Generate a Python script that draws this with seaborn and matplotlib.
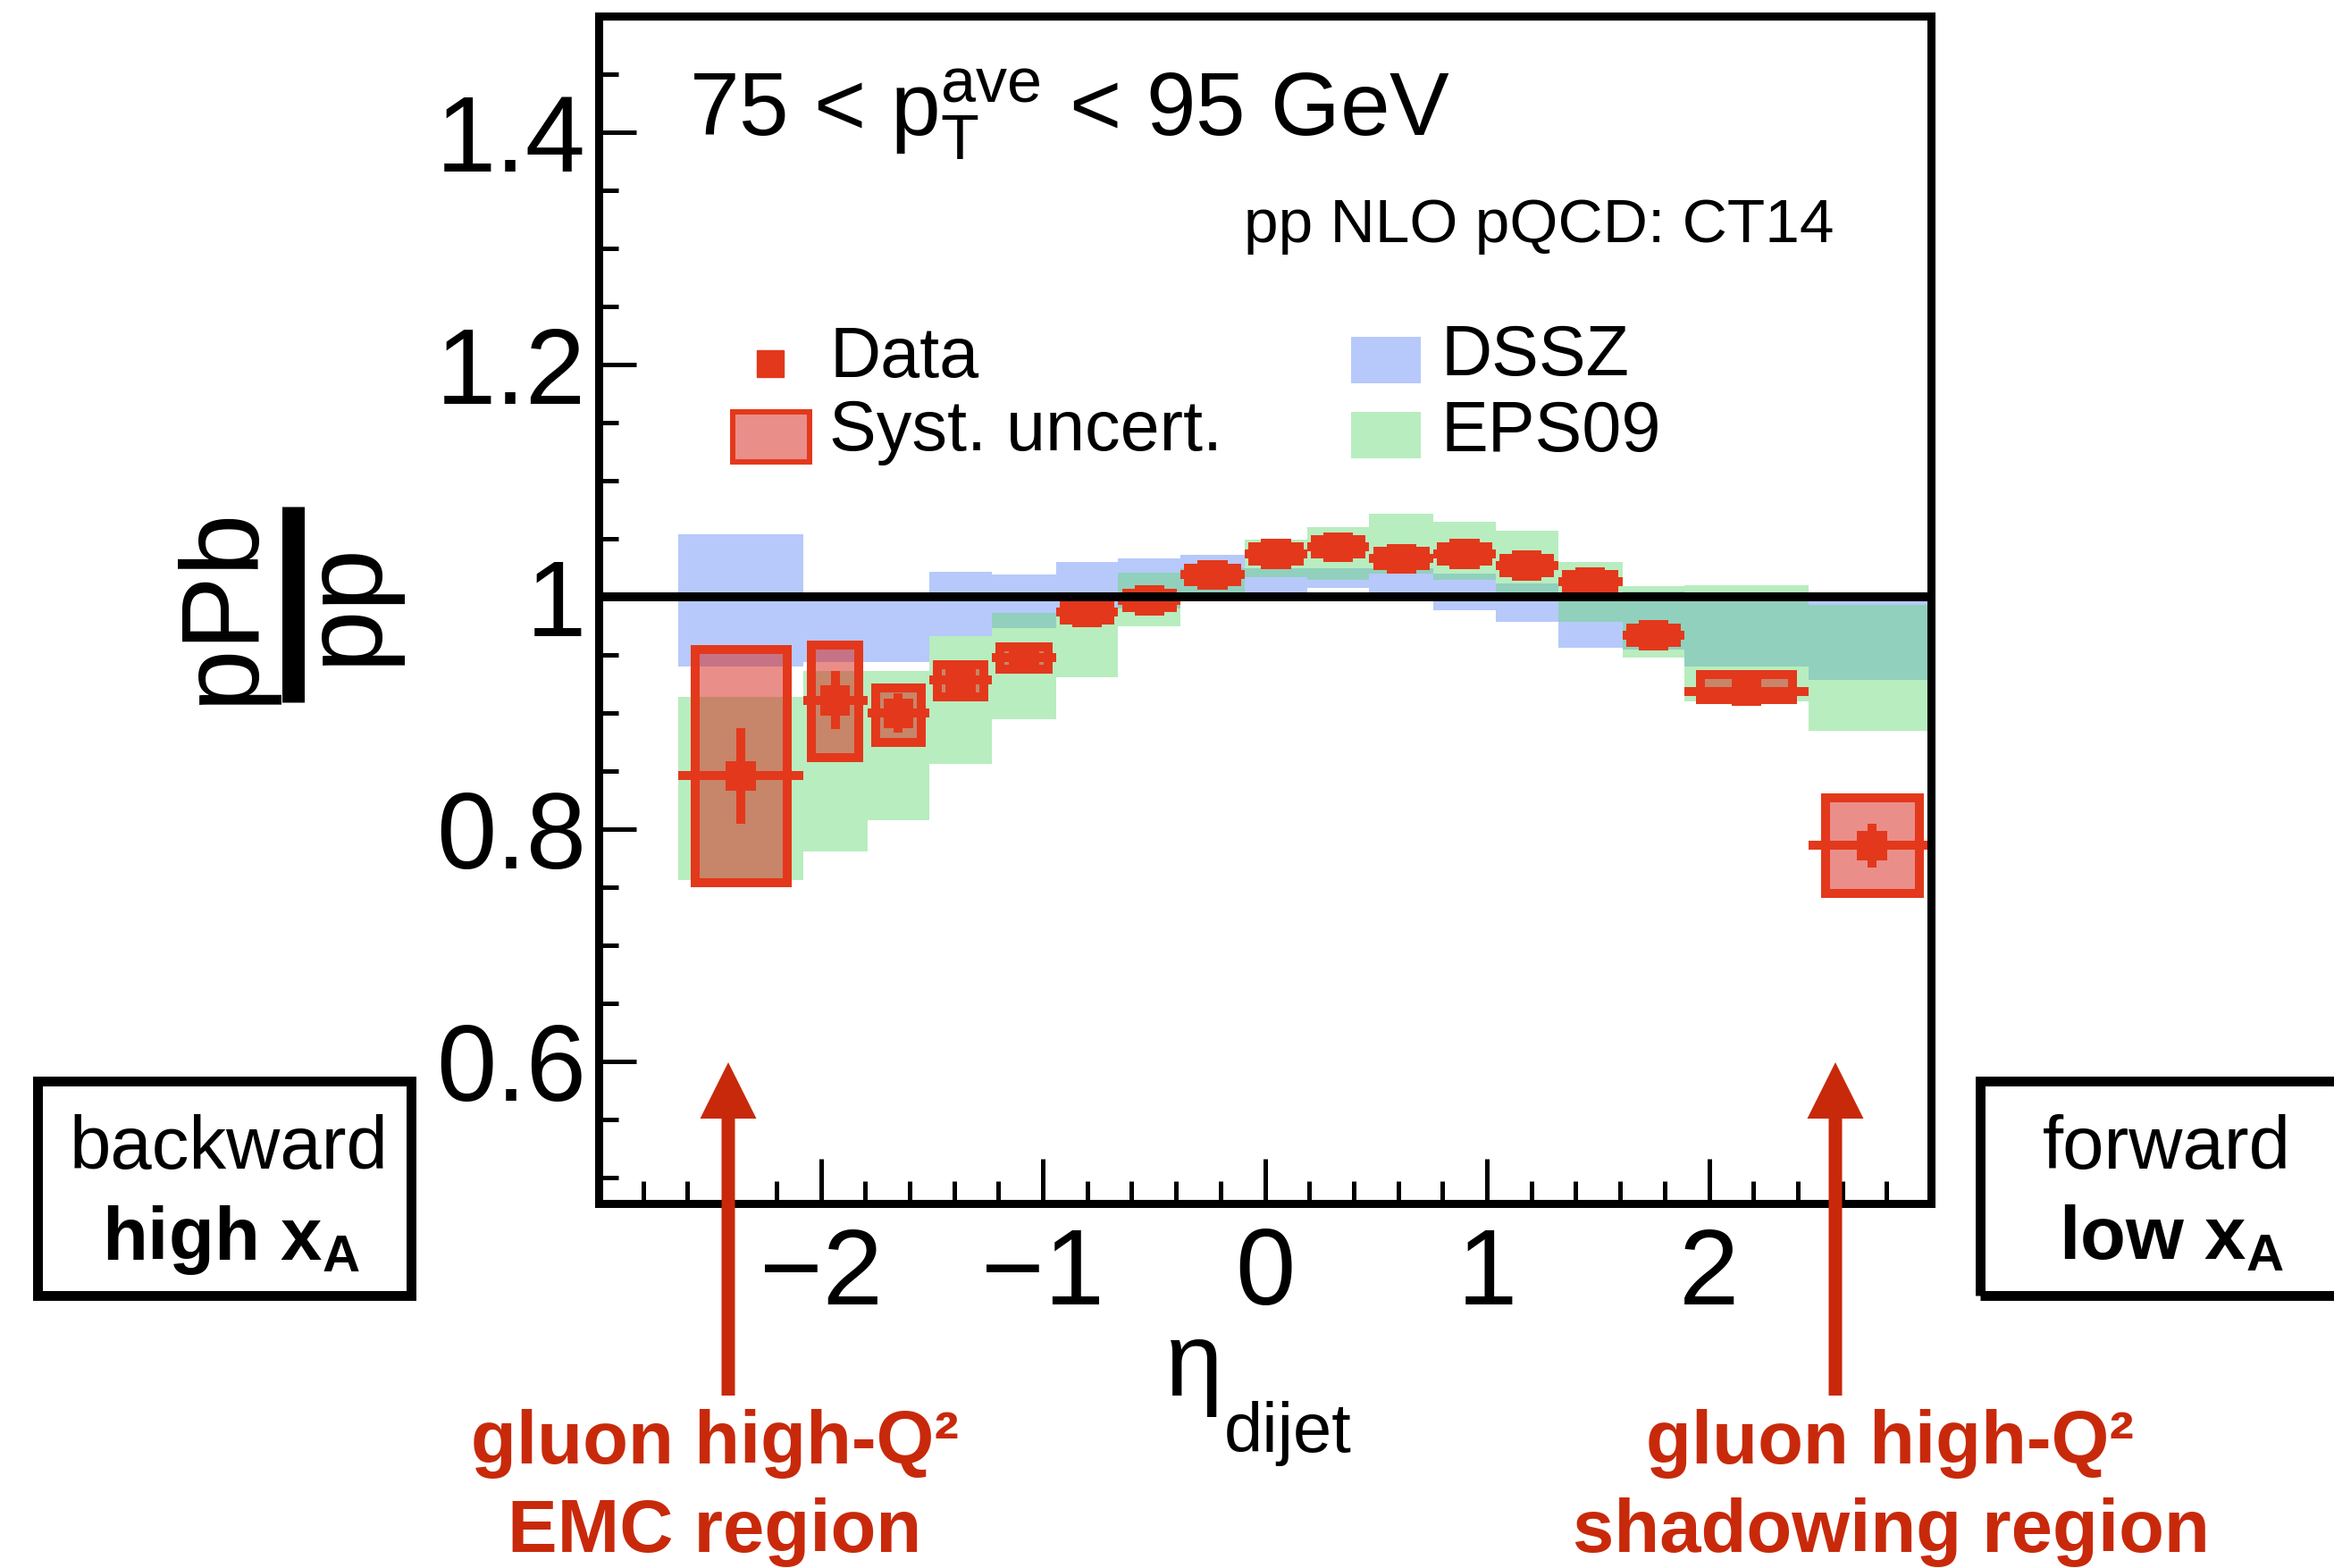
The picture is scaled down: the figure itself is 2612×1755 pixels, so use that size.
import numpy as np
import pandas as pd
import seaborn as sns
import matplotlib
matplotlib.use("Agg")
import matplotlib.pyplot as plt
from matplotlib.patches import Rectangle, FancyArrow
from matplotlib.lines import Line2D
from matplotlib.ticker import MultipleLocator, FixedLocator, FuncFormatter
from matplotlib.transforms import IdentityTransform

# ---------------- data ----------------
bin_edges = [-2.64, -2.08, -1.79, -1.51, -1.23, -0.94, -0.66, -0.38, -0.09,
             0.19, 0.47, 0.76, 1.04, 1.32, 1.61, 1.89, 2.45, 3.02]
data_ratio = [0.846, 0.911, 0.900, 0.929, 0.948, 0.987, 0.997, 1.019, 1.037,
              1.043, 1.033, 1.037, 1.027, 1.013, 0.967, 0.919, 0.786]
stat_err = [0.041, 0.025, 0.017, 0.009, 0.006, 0.005, 0.005, 0.005, 0.005,
            0.005, 0.005, 0.005, 0.005, 0.005, 0.006, 0.008, 0.019]
syst_low = [0.754, 0.862, 0.875, 0.914, 0.938, 0.980, 0.991, 1.013, 1.031,
            1.037, 1.027, 1.031, 1.021, 1.007, 0.961, 0.912, 0.745]
syst_high = [0.955, 0.959, 0.922, 0.942, 0.957, 0.993, 1.003, 1.025, 1.043,
             1.049, 1.039, 1.043, 1.033, 1.019, 0.973, 0.933, 0.827]
dssz_low = [0.940, 0.944, 0.944, 0.966, 0.973, 0.985, 0.990, 0.997, 0.999,
            1.008, 0.999, 0.989, 0.979, 0.956, 0.955, 0.940, 0.929]
dssz_high = [1.054, 0.999, 0.999, 1.022, 1.019, 1.030, 1.033, 1.036, 1.025,
             1.025, 1.025, 1.020, 1.012, 1.000, 1.005, 1.000, 0.998]
eps09_low = [0.756, 0.781, 0.808, 0.856, 0.895, 0.931, 0.975, 0.997, 1.017,
             1.015, 1.020, 1.015, 1.000, 0.979, 0.948, 0.910, 0.885]
eps09_high = [0.914, 0.936, 0.936, 0.966, 0.986, 0.990, 1.021, 1.025, 1.049,
              1.060, 1.072, 1.065, 1.057, 1.030, 1.009, 1.010, 0.993]
x_ticks = [-2, -1, 0, 1, 2]
y_ticks = [0.6, 0.8, 1.0, 1.2, 1.4]
legend_labels = ["Data", "Syst. uncert.", "DSSZ", "EPS09"]

# ---------------- style ----------------
sns.set_theme(style="ticks")
plt.rcParams["font.family"] = ["Liberation Sans", "DejaVu Sans"]
plt.rcParams.update({
    "mathtext.fontset": "custom",
    "mathtext.rm": "Liberation Sans",
    "mathtext.it": "Liberation Sans:italic",
    "mathtext.bf": "Liberation Sans:bold",
    "axes.edgecolor": "black", "xtick.color": "black", "ytick.color": "black",
    "text.color": "black", "axes.labelcolor": "black",
})

RED = "#e3381b"
SYST_FILL = (0.84, 0.12, 0.08, 0.5)
BLUE = "#b7c9fa"
GREEN = (99 / 255, 217 / 255, 115 / 255, 0.45)
ANNOT_RED = "#c8290b"

W, H = 2612, 1755
fig = plt.figure(figsize=(W / 100, H / 100), dpi=100)
PX = IdentityTransform()


def fx(px):
    return px / W


def fy(py):
    return 1 - py / H


ax = fig.add_axes([fx(670), fy(1347), (2161 - 670) / W, (1347 - 18) / H])

edges = np.array(bin_edges)
centers = 0.5 * (edges[:-1] + edges[1:])
widths = np.diff(edges)
df = pd.DataFrame({"eta": centers, "ratio": data_ratio})

d_lo, d_hi = np.array(dssz_low), np.array(dssz_high)
e_lo, e_hi = np.array(eps09_low), np.array(eps09_high)
s_lo, s_hi = np.array(syst_low), np.array(syst_high)

ax.bar(centers, d_hi - d_lo, bottom=d_lo, width=widths, color=BLUE,
       linewidth=0, zorder=1)
ax.bar(centers, e_hi - e_lo, bottom=e_lo, width=widths, color=GREEN,
       linewidth=0, zorder=2)
ax.bar(centers, s_hi - s_lo, bottom=s_lo, width=0.74 * widths,
       facecolor=SYST_FILL, edgecolor=RED, linewidth=7.2, zorder=3)
ax.errorbar(centers, data_ratio, xerr=widths / 2, yerr=stat_err, fmt="none",
            ecolor=RED, elinewidth=7.2, capsize=0, zorder=4)
sns.scatterplot(data=df, x="eta", y="ratio", marker="s", s=24 ** 2, color=RED,
                edgecolor="none", linewidth=0, ax=ax, zorder=5, legend=False)
ax.axhline(1.0, color="black", lw=7.2, zorder=6)

ax.set_xlim(-3.0, 3.0)
ax.set_ylim(0.478, 1.5)
ax.set_xlabel("")
ax.set_ylabel("")
for s in ax.spines.values():
    s.set_linewidth(6.5)
    s.set_color("black")
    s.set_zorder(10)

ax.xaxis.set_major_locator(FixedLocator(x_ticks))
ax.xaxis.set_minor_locator(MultipleLocator(0.2))
ax.yaxis.set_major_locator(FixedLocator(y_ticks))
ax.yaxis.set_minor_locator(MultipleLocator(0.05))
ax.xaxis.set_major_formatter(FuncFormatter(lambda v, p: f"{v:g}".replace("-", "\u2212")))
ax.yaxis.set_major_formatter(FuncFormatter(lambda v, p: f"{v:g}"))
ax.tick_params(axis="x", which="major", direction="in", length=36, width=3.6,
               labelsize=87, pad=19, top=False)
ax.tick_params(axis="x", which="minor", direction="in", length=18, width=3.6, top=False)
ax.tick_params(axis="y", which="major", direction="in", length=30, width=3.6,
               labelsize=87, pad=10, right=False)
ax.tick_params(axis="y", which="minor", direction="in", length=16, width=3.6, right=False)

# ---------------- texts inside the frame ----------------
fig.text(fx(771), fy(152), r"75 < $\mathrm{p}_{\mathrm{T}}^{\mathrm{ave}}$ < 95 GeV",
         fontsize=72, ha="left", va="baseline")
fig.text(fx(2053), fy(271), "pp NLO pQCD: CT14", fontsize=50, ha="right", va="baseline")

# ---------------- legend ----------------
fig.add_artist(Line2D([862], [H - 407], marker="s", markersize=21.6, color=RED,
                      linestyle="None", transform=PX))
fig.add_artist(Rectangle((820, H - 517), 85.5, 56.4, facecolor=SYST_FILL,
                         edgecolor=RED, linewidth=4.3, transform=PX))
fig.add_artist(Rectangle((1512, H - 428.6), 78, 51.6, facecolor=BLUE,
                         linewidth=0, transform=PX))
fig.add_artist(Rectangle((1512, H - 513), 78, 52, facecolor=GREEN,
                         linewidth=0, transform=PX))
fig.text(fx(929), fy(422), legend_labels[0], fontsize=57, ha="left", va="baseline")
fig.text(fx(928), fy(504), legend_labels[1], fontsize=57, ha="left", va="baseline")
fig.text(fx(1613), fy(420), legend_labels[2], fontsize=57, ha="left", va="baseline")
fig.text(fx(1613), fy(505), legend_labels[3], fontsize=57, ha="left", va="baseline")

# ---------------- axis titles ----------------
fig.text(fx(250), fy(677), "pPb", rotation=90, fontsize=90, ha="center", va="center")
fig.add_artist(Line2D([fx(328), fx(328)], [fy(567), fy(786)], lw=18, color="black",
                      solid_capstyle="butt"))
fig.text(fx(388), fy(675), "pp", rotation=90, fontsize=90, ha="center", va="center")

fig.text(fx(1304), fy(1562), "\u03b7", fontsize=84, ha="left", va="baseline")
fig.text(fx(1370), fy(1625), "dijet", fontsize=56, ha="left", va="baseline")

# ---------------- annotation boxes ----------------
fig.add_artist(Rectangle((41.5, H - 1449.5), 418, 240, fill=False, edgecolor="black",
                         linewidth=7.9, transform=PX))
fig.add_artist(Rectangle((2216, H - 1449.5), 500, 240, fill=False, edgecolor="black",
                         linewidth=7.9, transform=PX))
fig.text(fx(256), fy(1308), "backward", fontsize=60, ha="center", va="baseline")
fig.text(fx(258), fy(1410), r"high x$_{\mathbf{A}}$", fontsize=60, fontweight="bold",
         ha="center", va="baseline")
fig.text(fx(2425), fy(1308), "forward", fontsize=60, ha="center", va="baseline")
fig.text(fx(2430), fy(1410), r"low x$_{\mathbf{A}}$", fontsize=60, fontweight="bold",
         ha="center", va="baseline")

# ---------------- arrows + red notes ----------------
for xa in (815, 2054):
    fig.add_artist(FancyArrow(xa, H - 1562, 0, 1562 - 1189, width=15, head_width=63,
                              head_length=63, length_includes_head=True,
                              color=ANNOT_RED, linewidth=0, transform=PX))
fig.text(fx(800), fy(1638), "gluon high-Q\u00b2", fontsize=60, fontweight="bold",
         color=ANNOT_RED, ha="center", va="baseline")
fig.text(fx(800), fy(1737), "EMC region", fontsize=60, fontweight="bold",
         color=ANNOT_RED, ha="center", va="baseline")
fig.text(fx(2115), fy(1638), "gluon high-Q\u00b2", fontsize=60, fontweight="bold",
         color=ANNOT_RED, ha="center", va="baseline")
fig.text(fx(2116), fy(1737), "shadowing region", fontsize=60, fontweight="bold",
         color=ANNOT_RED, ha="center", va="baseline")

fig.savefig("out.png", dpi=100)
